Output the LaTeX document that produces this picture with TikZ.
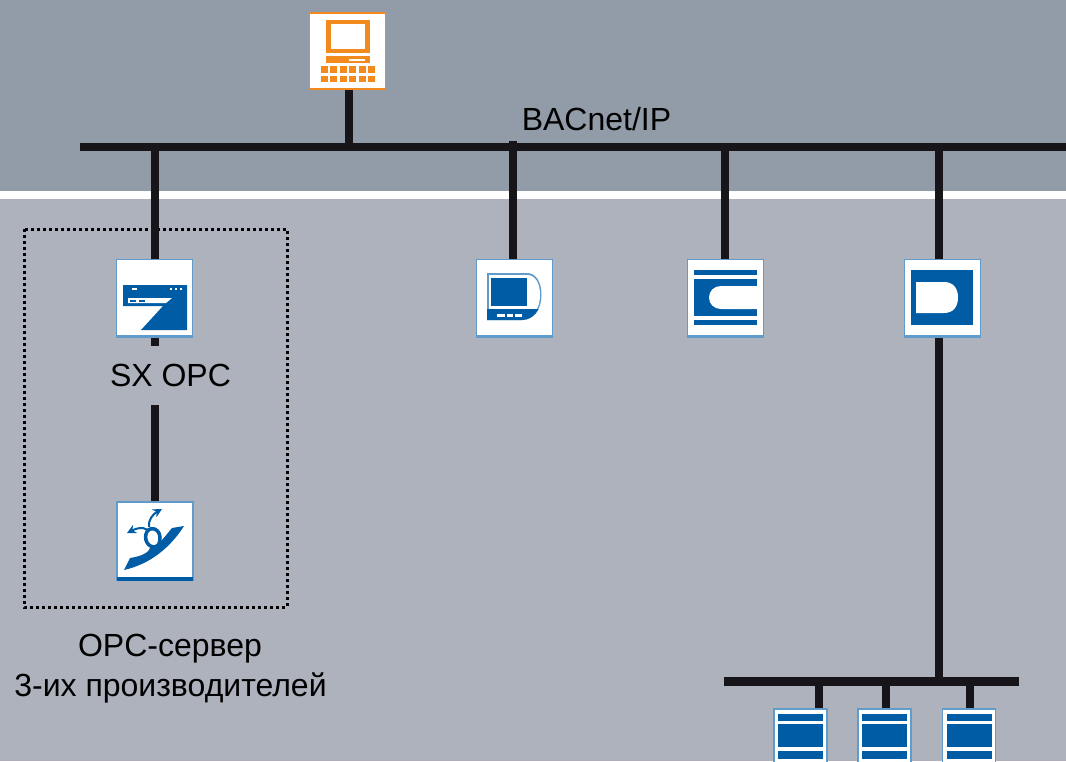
\documentclass[tikz,border=0pt]{standalone}
\usepackage{fontspec}
\setmainfont{Liberation Sans}
\usetikzlibrary{arrows.meta}
\definecolor{bandtop}{HTML}{929CA8}
\definecolor{bandlow}{HTML}{AEB2BD}
\definecolor{iconblue}{HTML}{005CA5}
\definecolor{edgeblue}{HTML}{5F9CCB}
\definecolor{iconorange}{HTML}{F28A1E}
\definecolor{wire}{HTML}{17151A}
\tikzset{
  wireline/.style={draw=wire,line width=8pt},
  busline/.style={draw=wire,line width=8.5pt},
  iconbox/.style={draw=edgeblue,line width=1.5pt,fill=white,inner sep=0pt,minimum width=76pt,minimum height=78pt},
  pcbox/.style={draw=iconorange,line width=1.5pt,fill=white,inner sep=0pt,minimum width=76pt,minimum height=76pt},
  unitbox/.style={draw=edgeblue,line width=1.5pt,fill=white,inner sep=0pt,minimum width=53pt,minimum height=82pt},
  blue/.style={fill=iconblue,draw=none},
  hole/.style={fill=white,draw=none},
  orange/.style={fill=iconorange,draw=none},
  label/.style={font=\fontsize{32}{38}\selectfont,inner sep=0pt,text=black},
}
\begin{document}
\begin{tikzpicture}[x=1pt,y=-1pt]
\clip (0,0) rectangle (1066,761);
\fill[bandlow] (0,0) rectangle (1066,761);
\fill[bandtop] (0,0) rectangle (1066,191);
\fill[white] (0,191) rectangle (1066,199);

% frame
\draw[black,line width=3pt,dash pattern=on 3pt off 3pt] (24,229) rectangle (287,607);

% nodes
\node[pcbox] (pc) at (347.5,51) {};
\node[iconbox] (sx) at (154.5,298.5) {};
\node[iconbox] (opc) at (155,541) {};
\node[iconbox] (disp) at (514.5,298.5) {};
\node[iconbox] (ctrl) at (725.5,298.5) {};
\node[iconbox] (dev) at (942.5,298.5) {};
\node[unitbox] (u1) at (800.5,750) {};
\node[unitbox] (u2) at (884.5,750) {};
\node[unitbox] (u3) at (969,750) {};

% buses and the points where stems leave them
\coordinate (busL) at (80,147);
\coordinate (busR) at (1066,147);
\coordinate (lowL) at (724,681.5);
\coordinate (lowR) at (1019,681.5);
\coordinate (tapPc) at (349,147);
\coordinate (tapSx) at (155,147);
\coordinate (tapDisp) at (513,141);
\coordinate (tapCtrl) at (725,147);
\coordinate (tapDev) at (939,147);
\coordinate (tapLow) at (939,681);
\coordinate (tapU1) at (819,681);
\coordinate (tapU2) at (886,681);
\coordinate (tapU3) at (970,681);
\draw[busline] (busL) -- (busR);
\draw[busline] (lowL) -- (lowR);

% stems
\draw[wireline] (tapPc |- pc.south) -- (tapPc);
\draw[wireline] (tapSx) -- (tapSx |- sx.north);
\draw[wireline] (tapDisp) -- (tapDisp |- disp.north);
\draw[wireline] (tapCtrl) -- (tapCtrl |- ctrl.north);
\draw[wireline] (tapDev) -- (tapDev |- dev.north);
\draw[wireline] (tapLow |- dev.south) -- (tapLow);
\draw[wireline] (tapU1) -- (tapU1 |- u1.north);
\draw[wireline] (tapU2) -- (tapU2 |- u2.north);
\draw[wireline] (tapU3) -- (tapU3 |- u3.north);
\draw[wireline] (tapSx |- sx.south) -- (tapSx |- opc.north);

% lower edges of the boxes
\fill[edgeblue] (116,335) rectangle (193,338);
\fill[iconblue] (117,577) rectangle (193,581);
\fill[edgeblue] (476,334.5) rectangle (553,338);
\fill[edgeblue] (688,334.5) rectangle (764,338);
\fill[edgeblue] (904,334.5) rectangle (981,338);

% PC icon
\fill[orange] (326,20) rectangle (370,53);
\fill[hole] (331,23.5) rectangle (365,49);
\fill[orange] (326,56) rectangle (370,63);
\fill[hole] (349,59) rectangle (365,61);
\foreach \i in {0,...,5}{
  \fill[orange] (321+\i*9.4,66) rectangle +(7,6.5);
  \fill[orange] (321+\i*9.4,75.5) rectangle +(7,6.5);
}

% SX icon
\fill[blue] (123,285) -- (187,285) -- (187,330) -- (141,330) -- (163,306) -- (123,306) -- cycle;
\fill[hole] (128,298) -- (172,298) -- (166,303) -- (128,303) -- cycle;
\fill[blue] (130,299.5) rectangle (136,301.5);
\fill[blue] (139,299.5) rectangle (145,301.5);
\fill[hole] (132,287.5) rectangle (137,289.5);
\fill[hole] (170,287.5) rectangle (172,289.5);
\fill[hole] (175,287.5) rectangle (177,289.5);
\fill[hole] (180,287.5) rectangle (182,289.5);

% OPC icon
\fill[blue] (124,570) .. controls (150,564) and (170,548) .. (184,526)
  -- (172,528) .. controls (165,536) and (160,545) .. (151,546)
  .. controls (149,553) and (142,556) .. (130,558) -- cycle;
\draw[iconblue,line width=3.5pt] (160,546) .. controls (150,550) and (144,542) .. (146,534)
  .. controls (148,526) and (159,527) .. (160,537) .. controls (160.5,543) and (158,547) .. (153,549);
\draw[iconblue,line width=2pt,-{Stealth[length=9pt,width=9pt]}] (149,527) .. controls (148,520) and (153,514) .. (162,509);
\draw[iconblue,line width=2pt,-{Stealth[length=9pt,width=9pt]}] (148,530) .. controls (142,526) and (135,529) .. (127,533);

% display icon
\fill[edgeblue] (487,273) -- (527,273) .. controls (536,273) and (541.5,282) .. (541.5,295)
  .. controls (541.5,310) and (533,320) .. (522,320) -- (487,320) -- cycle;
\fill[hole] (489,275) -- (527,275) .. controls (535,275) and (540,283) .. (540,295) .. controls (540,310) and (532,318) .. (522,318) -- (489,318) -- cycle;
\fill[blue] (487,309) -- (538.5,309) .. controls (535,316) and (529,320) .. (522,320) -- (487,320) -- cycle;
\fill[blue] (491,278) rectangle (527,306);
\fill[hole] (497,313.5) rectangle (505,316.5);
\fill[hole] (507,313.5) rectangle (513,316.5);
\fill[hole] (515,313.5) rectangle (522,316.5);

% C icon
\fill[blue] (694,269.5) rectangle (757,275);
\fill[blue] (694,320) rectangle (757,325);
\fill[blue] (694,279) rectangle (757,316);
\fill[hole] (757,286) -- (721,286) .. controls (714,286) and (709,291) .. (709,297.5)
  .. controls (709,304) and (714,309) .. (721,309) -- (757,309) -- cycle;

% D icon
\fill[blue] (911,270) rectangle (973,325);
\fill[hole] (916,282) -- (944,282) .. controls (953,282) and (958,288) .. (958,297.5)
  .. controls (958,307) and (953,313) .. (944,313) -- (916,313) -- cycle;

% unit icons
\foreach \x in {778,862,946.5}{
  \fill[blue] (\x,714) rectangle +(45,7);
  \fill[blue] (\x,724) rectangle +(45,23);
  \fill[blue] (\x,750.5) rectangle +(45,8);
}

% labels
\node[label] (bac) at (596.5,119) {BACnet/IP};
\node[label,fill=bandlow,minimum height=59pt,inner xsep=2pt] (sxl) at (170.5,375) {SX OPC};
\node[label] (opcl1) at (170,649) {OPC-сервер};
\node[label] (opcl2) at (170.5,688) {3-их производителей};
\end{tikzpicture}
\end{document}
